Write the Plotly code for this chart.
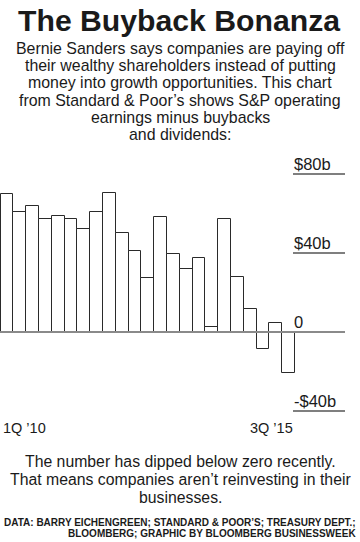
import plotly.graph_objects as go

quarters = ["1Q '10", "2Q '10", "3Q '10", "4Q '10",
            "1Q '11", "2Q '11", "3Q '11", "4Q '11",
            "1Q '12", "2Q '12", "3Q '12", "4Q '12",
            "1Q '13", "2Q '13", "3Q '13", "4Q '13",
            "1Q '14", "2Q '14", "3Q '14", "4Q '14",
            "1Q '15", "2Q '15", "3Q '15"]
values = [70, 60.6, 64, 57.4, 58.7, 57.4, 52.2, 61, 70.2, 50, 40.9, 27.4,
          58.2, 39.5, 31.8, 37.4, 2.4, 57, 28, 11.4, -8.8, 4.7, -20.9]
tick_vals = [80, 40, 0, -40]
tick_text = ["$80b", "$40b", "0", "-$40b"]
first_label = "1Q ’10"
last_label = "3Q ’15"

FONT = "Liberation Sans, Arial, sans-serif"
W, H = 360, 542
T, B, L, R = 150, 122, 0, 15
PH = H - T - B
PW = W - L - R

def py(ypix):
    return (H - B - ypix) / PH

def px(xpix):
    return (xpix - L) / PW

xs = list(range(len(values)))

fig = go.Figure(go.Bar(
    x=xs, y=values, width=1,
    marker=dict(color="white", line=dict(color="#2a2a2a", width=1)),
    hoverinfo="skip",
))

shapes = []
annotations = []
for v, t in zip(tick_vals, tick_text):
    if v == 0:
        shapes.append(dict(type="line", xref="paper", yref="y", x0=0, x1=1,
                           y0=v, y1=v, line=dict(color="#8a8a8a", width=2), layer="above"))
    else:
        shapes.append(dict(type="line", xref="paper", yref="y", x0=px(293), x1=1,
                           y0=v, y1=v, line=dict(color="#555", width=1.3)))
    annotations.append(dict(text=t, xref="paper", yref="y", x=px(292), y=v,
                             xanchor="left", yanchor="bottom", yshift=-1, showarrow=False,
                             font=dict(family=FONT, size=16.5, color="#1a1a1a")))

annotations.append(dict(text=first_label, xref="x", yref="paper", x=-0.5, y=py(428),
                        xanchor="left", yanchor="middle", showarrow=False,
                        font=dict(family=FONT, size=14.5, color="#1a1a1a")))
annotations.append(dict(text=last_label, xref="x", yref="paper", x=len(values) - 0.5, y=py(428),
                        xanchor="right", yanchor="middle", showarrow=False,
                        font=dict(family=FONT, size=14.5, color="#1a1a1a")))

annotations.append(dict(text="<b>The Buyback Bonanza</b>", xref="paper", yref="paper",
                        x=px(179), y=py(21), xanchor="center", yanchor="middle",
                        showarrow=False, font=dict(family=FONT, size=30.2, color="#1a1a1a")))

sub = ["Bernie Sanders says companies are paying off",
       "their wealthy shareholders instead of putting",
       "money into growth opportunities. This chart",
       "from Standard &amp; Poor’s shows S&amp;P operating",
       "earnings minus buybacks",
       "and dividends:"]
sub_y = [48.5, 65.8, 83, 100.2, 117.5, 134.8]
for s, yy in zip(sub, sub_y):
    annotations.append(dict(text=s, xref="paper", yref="paper", x=px(180), y=py(yy),
                            xanchor="center", yanchor="middle", showarrow=False,
                            font=dict(family=FONT, size=15.9, color="#1a1a1a")))

note = ["The number has dipped below zero recently.",
        "That means companies aren’t reinvesting in their",
        "businesses."]
note_y = [462, 479.5, 497]
for s, yy in zip(note, note_y):
    annotations.append(dict(text=s, xref="paper", yref="paper", x=px(180), y=py(yy),
                            xanchor="center", yanchor="middle", showarrow=False,
                            font=dict(family=FONT, size=15.8, color="#1a1a1a")))

src = ["DATA: BARRY EICHENGREEN; STANDARD &amp; POOR’S; TREASURY DEPT.;",
       "BLOOMBERG; GRAPHIC BY BLOOMBERG BUSINESSWEEK"]
src_y = [522, 533]
for s, yy in zip(src, src_y):
    annotations.append(dict(text="<b>" + s + "</b>", xref="paper", yref="paper",
                            x=px(358), y=py(yy), xanchor="right", yanchor="middle",
                            showarrow=False, font=dict(family=FONT, size=10, color="#1a1a1a")))

fig.update_layout(
    width=W, height=H,
    margin=dict(l=L, r=R, t=T, b=B, pad=0),
    paper_bgcolor="white", plot_bgcolor="white",
    showlegend=False, bargap=0,
    xaxis=dict(range=[-0.55, 26.4], visible=False, fixedrange=True),
    yaxis=dict(range=[(332 - (H - B)) / 1.975, (332 - T) / 1.975], visible=False,
               fixedrange=True, zeroline=False),
    shapes=shapes, annotations=annotations,
)

fig.write_html("out.html", config={"displayModeBar": False},
               post_script="document.body.style.margin='0';document.body.style.overflow='hidden';")
